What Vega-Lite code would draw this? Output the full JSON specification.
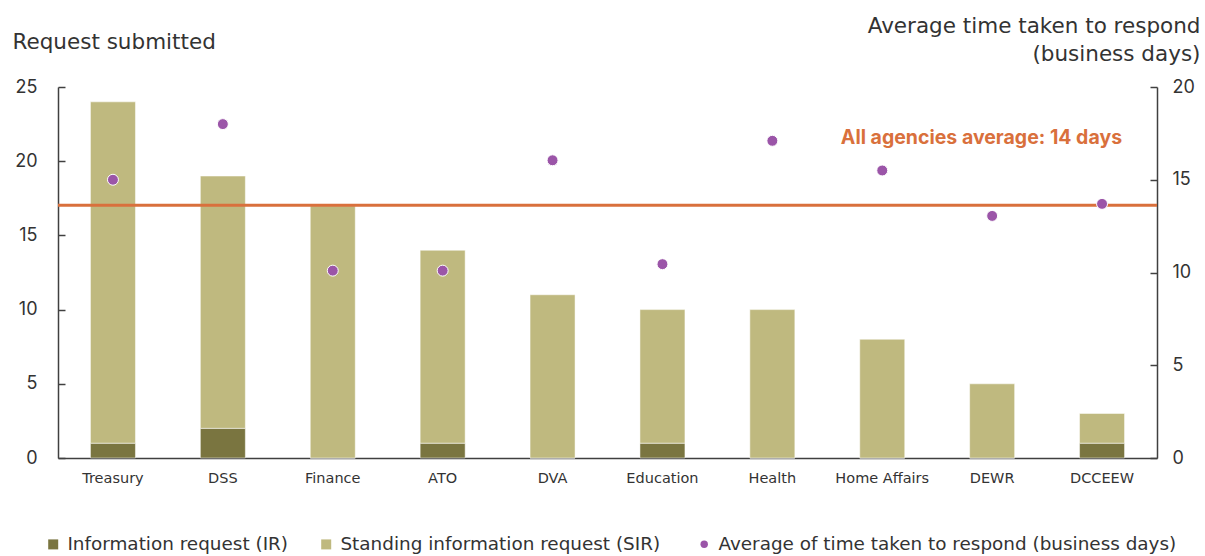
{
  "$schema": "https://vega.github.io/schema/vega-lite/v6.json",
  "width": 1099,
  "height": 371,
  "autosize": {"type": "none"},
  "padding": {"left": 58, "top": 87, "right": 48, "bottom": 98},
  "background": "white",
  "config": {
    "font": "Inter",
    "view": {"stroke": null},
    "axis": {"grid": false, "domain": true, "domainColor": "#404040", "domainWidth": 1.5, "tickColor": "#404040", "tickWidth": 1.5, "labelColor": "#333333", "titleColor": "#333333"}
  },
  "datasets": {
    "bars": [
      {"agency": "Treasury", "type": "Information request (IR)", "count": 1},
      {"agency": "Treasury", "type": "Standing information request (SIR)", "count": 23},
      {"agency": "DSS", "type": "Information request (IR)", "count": 2},
      {"agency": "DSS", "type": "Standing information request (SIR)", "count": 17},
      {"agency": "Finance", "type": "Information request (IR)", "count": 0},
      {"agency": "Finance", "type": "Standing information request (SIR)", "count": 17},
      {"agency": "ATO", "type": "Information request (IR)", "count": 1},
      {"agency": "ATO", "type": "Standing information request (SIR)", "count": 13},
      {"agency": "DVA", "type": "Information request (IR)", "count": 0},
      {"agency": "DVA", "type": "Standing information request (SIR)", "count": 11},
      {"agency": "Education", "type": "Information request (IR)", "count": 1},
      {"agency": "Education", "type": "Standing information request (SIR)", "count": 9},
      {"agency": "Health", "type": "Information request (IR)", "count": 0},
      {"agency": "Health", "type": "Standing information request (SIR)", "count": 10},
      {"agency": "Home Affairs", "type": "Information request (IR)", "count": 0},
      {"agency": "Home Affairs", "type": "Standing information request (SIR)", "count": 8},
      {"agency": "DEWR", "type": "Information request (IR)", "count": 0},
      {"agency": "DEWR", "type": "Standing information request (SIR)", "count": 5},
      {"agency": "DCCEEW", "type": "Information request (IR)", "count": 1},
      {"agency": "DCCEEW", "type": "Standing information request (SIR)", "count": 2}
    ],
    "days": [
      {"agency": "Treasury", "days": 15.0},
      {"agency": "DSS", "days": 18.0},
      {"agency": "Finance", "days": 10.1},
      {"agency": "ATO", "days": 10.1},
      {"agency": "DVA", "days": 16.05},
      {"agency": "Education", "days": 10.45},
      {"agency": "Health", "days": 17.1},
      {"agency": "Home Affairs", "days": 15.5},
      {"agency": "DEWR", "days": 13.05},
      {"agency": "DCCEEW", "days": 13.7}
    ],
    "note": [
      {"agency": "DCCEEW", "days": 17.25, "label": "All agencies average: 14 days", "avg": 13.62}
    ]
  },
  "layer": [
    {
      "data": {"name": "bars"},
      "mark": {"type": "bar", "size": 45, "stroke": "white", "strokeWidth": 0.5},
      "encoding": {
        "x": {
          "field": "agency", "type": "nominal",
          "scale": {"domain": ["Treasury", "DSS", "Finance", "ATO", "DVA", "Education", "Health", "Home Affairs", "DEWR", "DCCEEW"], "paddingInner": 0, "paddingOuter": 0},
          "axis": {"title": null, "labelAngle": 0, "ticks": false, "labelPadding": 13, "labelFont": "DejaVu Sans", "labelFontSize": 14.5, "labelBaseline": "top", "domainWidth": 1.5}
        },
        "y": {
          "field": "count", "type": "quantitative", "stack": "zero",
          "scale": {"domain": [0, 25]},
          "axis": {
            "orient": "left", "values": [0, 5, 10, 15, 20, 25], "domain": true, "domainColor": "#404040", "ticks": true, "tickSize": -7, "labelPadding": 28, "labelFontSize": 18,
            "title": "Request submitted", "titleFont": "DejaVu Sans", "titleAngle": 0, "titleX": -46, "titleY": -45, "titleAlign": "left", "titleBaseline": "middle", "titleFontSize": 21.5, "titleFontWeight": "normal"
          }
        },
        "color": {
          "field": "type", "type": "nominal",
          "scale": {"domain": ["Information request (IR)", "Standing information request (SIR)"], "range": ["#7a7540", "#bfb97f"]},
          "legend": {"orient": "none", "legendX": -14, "legendY": 448, "direction": "horizontal", "title": null, "symbolType": "square", "symbolSize": 100, "symbolStrokeWidth": 0, "labelFont": "DejaVu Sans", "labelFontSize": 18.4, "labelLimit": 0, "labelColor": "#333333", "columnPadding": 28, "labelOffset": 5}
        },
        "order": {"field": "type", "sort": "ascending"}
      }
    },
    {
      "layer": [
        {
          "data": {"name": "note"},
          "mark": {"type": "rule", "color": "#d9703c", "strokeWidth": 3},
          "encoding": {"y": {"field": "avg", "type": "quantitative"}}
        },
        {
          "data": {"name": "days"},
          "mark": {"type": "point", "filled": true, "size": 120, "stroke": "white", "strokeWidth": 1, "opacity": 1},
          "encoding": {
            "x": {"field": "agency", "type": "nominal"},
            "y": {
              "field": "days", "type": "quantitative",
              "scale": {"domain": [0, 20]},
              "axis": {
                "orient": "right", "values": [0, 5, 10, 15, 20], "domain": true, "domainColor": "#404040", "ticks": true, "tickSize": -7, "labelPadding": 22, "labelFontSize": 18,
                "title": ["Average time taken to respond", "(business days)"], "titleFont": "DejaVu Sans", "titleAngle": 0, "titleX": 43, "titleY": -72, "titleAlign": "right", "titleBaseline": "top", "titleFontSize": 21.5, "titleFontWeight": "normal", "titleLineHeight": 28
              }
            },
            "fill": {
              "datum": "Average of time taken to respond (business days)", "type": "nominal",
              "scale": {"range": ["#9b55a8"]},
              "legend": {"orient": "none", "legendX": 637, "legendY": 448, "title": null, "symbolType": "circle", "symbolSize": 55, "labelFont": "DejaVu Sans", "labelFontSize": 18.4, "labelLimit": 0, "labelColor": "#333333", "labelOffset": 5, "symbolStrokeWidth": 0}
            }
          }
        },
        {
          "data": {"name": "note"},
          "mark": {"type": "text", "align": "right", "baseline": "middle", "dx": 20, "fontSize": 19.5, "fontWeight": "bold", "color": "#d9703c"},
          "encoding": {
            "x": {"field": "agency", "type": "nominal"},
            "y": {"field": "days", "type": "quantitative"},
            "text": {"field": "label"}
          }
        }
      ]
    }
  ],
  "resolve": {"scale": {"y": "independent"}}
}
